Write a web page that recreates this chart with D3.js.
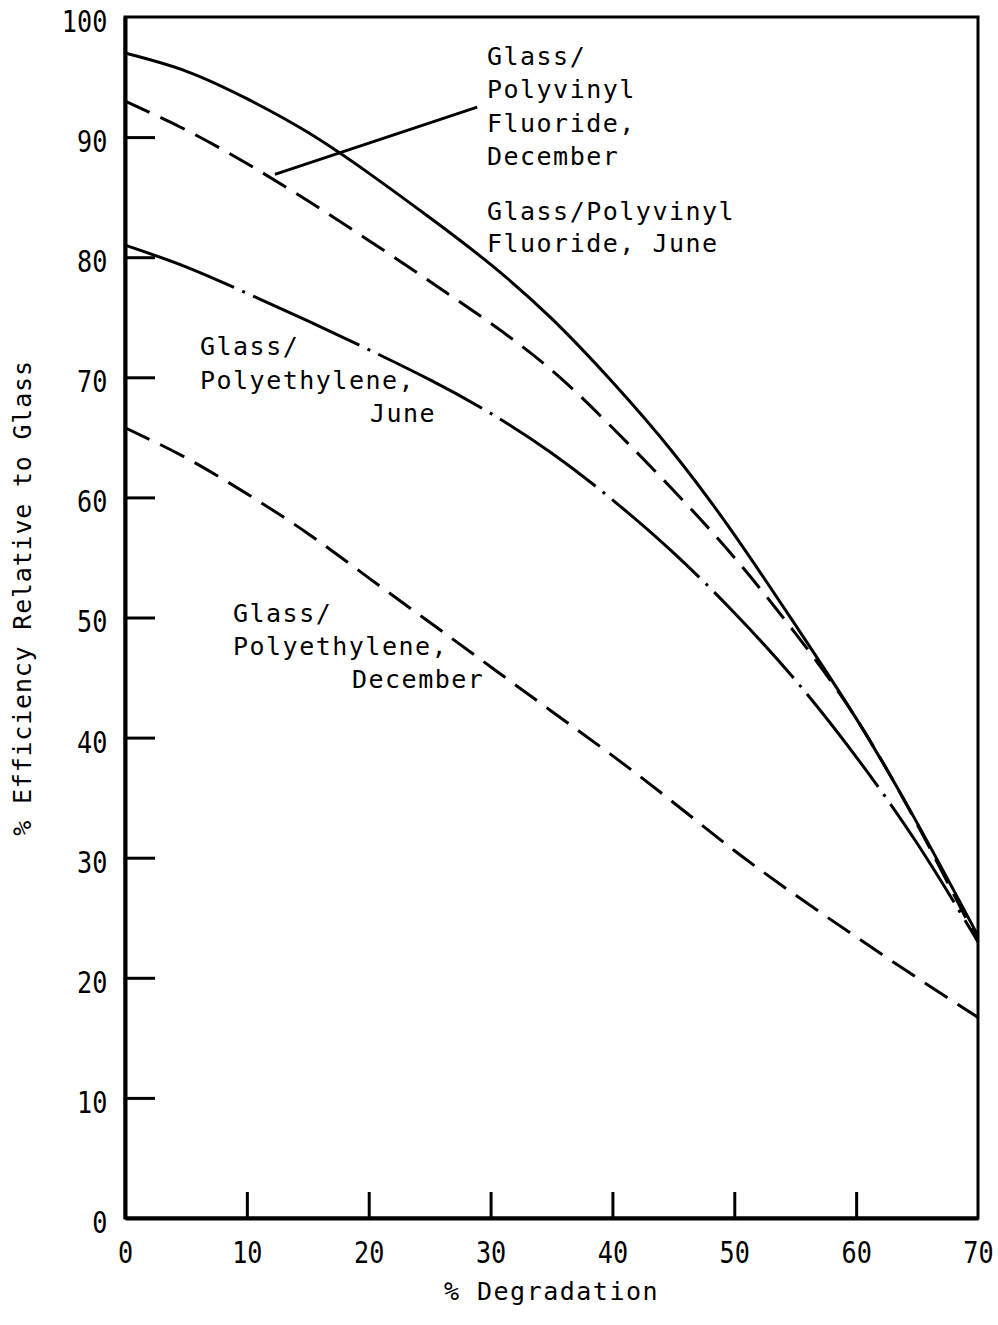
<!DOCTYPE html>
<html lang="en">
<head>
<meta charset="UTF-8">
<title>% Efficiency Relative to Glass</title>
<script src="https://d3js.org/d3.v7.min.js"></script>
<style>
  body { margin: 0; background: white; }
  svg { display: block; }
  text { font-family: "DejaVu Sans Mono", monospace; fill: black; }
</style>
</head>
<body>
<svg id="chart"></svg>
<script>
const width = 998, height = 1325;

// % degradation (x) and efficiency curves
const degradation = [0, 5, 10, 15, 20, 25, 30, 35, 40, 45, 50, 55, 60, 65, 70];
const pvfJune     = [97, 95.5, 93.2, 90.4, 87.0, 83.3, 79.4, 74.9, 69.6, 63.7, 56.9, 49.4, 41.6, 32.9, 23.5];
const pvfDecember = [93, 90.6, 87.8, 84.7, 81.4, 78.0, 74.5, 70.6, 65.8, 60.6, 55.0, 48.7, 41.6, 32.8, 23.0];
const peJune      = [81, 79.2, 77.0, 74.7, 72.3, 69.8, 67.0, 63.7, 59.8, 55.4, 50.4, 44.8, 38.4, 31.2, 23.0];
const peDecember  = [65.8, 63.3, 60.3, 57.0, 53.3, 49.6, 45.9, 42.2, 38.5, 34.6, 30.6, 26.9, 23.4, 20.0, 16.7];

const xTicks = [0, 10, 20, 30, 40, 50, 60, 70];
const yTicks = [0, 10, 20, 30, 40, 50, 60, 70, 80, 90, 100];

const svg = d3.select("#chart")
    .attr("width", width)
    .attr("height", height);

svg.append("rect").attr("width", width).attr("height", height).attr("fill", "white");

const x = d3.scaleLinear().domain([0, 70]).range([125, 978]);
const y = d3.scaleLinear().domain([0, 100]).range([1218, 17]);

// frame
svg.append("rect")
    .attr("x", x(0)).attr("y", y(100))
    .attr("width", x(70) - x(0)).attr("height", y(0) - y(100))
    .attr("fill", "none").attr("stroke", "black").attr("stroke-width", 3);

// axes (ticks point inward)
const xAxis = svg.append("g")
    .attr("transform", `translate(0,${y(0)})`)
    .call(d3.axisBottom(x).tickValues(xTicks).tickSizeInner(-26).tickSizeOuter(0).tickPadding(24));

const yAxis = svg.append("g")
    .attr("transform", `translate(${x(0)},0)`)
    .call(d3.axisLeft(y).tickValues(yTicks).tickSizeInner(-30).tickSizeOuter(0).tickPadding(21));

[xAxis, yAxis].forEach(g => {
    g.select(".domain").attr("stroke", "black").attr("stroke-width", 4);
    g.selectAll(".tick line").attr("stroke", "black").attr("stroke-width", 3);
    g.selectAll(".tick text")
        .attr("font-family", "DejaVu Sans Mono, monospace")
        .attr("font-size", 30)
        .attr("fill", "black")
        .attr("transform", "scale(0.84,1)");
});
xAxis.selectAll(".tick").filter(d => d === 0 || d === 70).select("line").remove();
yAxis.selectAll(".tick").filter(d => d === 0 || d === 100).select("line").remove();
yAxis.selectAll(".tick text").attr("dy", "0.48em");

// curves
const series = [
    { values: pvfJune, dash: null },
    { values: pvfDecember, dash: "27,12" },
    { values: peJune, dash: "117,9,3,9" },
    { values: peDecember, dash: "27,12" }
];

const line = d3.line()
    .x(d => x(d[0]))
    .y(d => y(d[1]))
    .curve(d3.curveNatural);

svg.append("g").selectAll("path")
    .data(series)
    .join("path")
    .attr("d", s => line(degradation.map((dx, i) => [dx, s.values[i]])))
    .attr("fill", "none")
    .attr("stroke", "black")
    .attr("stroke-width", 3)
    .attr("stroke-dasharray", s => s.dash);

// leader line from the December label to its curve
svg.append("line")
    .attr("x1", x(12.3)).attr("y1", y(86.9))
    .attr("x2", x(28.9)).attr("y2", y(92.5))
    .attr("stroke", "black").attr("stroke-width", 3);

// curve labels
const labels = [
    { x: 29.7, y: 96.0, lh: 33.3, lines: [["Glass/", 0], ["Polyvinyl", 0], ["Fluoride,", 0], ["December", 0]] },
    { x: 29.7, y: 83.1, lh: 32, lines: [["Glass/Polyvinyl", 0], ["Fluoride, June", 0]] },
    { x: 6.15, y: 71.85, lh: 33.5, lines: [["Glass/", 0], ["Polyethylene,", 0], ["June", 170]] },
    { x: 8.86, y: 49.6, lh: 33, lines: [["Glass/", 0], ["Polyethylene,", 0], ["December", 119]] }
];

labels.forEach(l => {
    const t = svg.append("text")
        .attr("font-size", 25)
        .attr("letter-spacing", 1.5);
    l.lines.forEach((ln, i) => {
        t.append("tspan")
            .attr("x", x(l.x) + ln[1])
            .attr("y", y(l.y) + i * l.lh)
            .text(ln[0]);
    });
});

// axis titles
svg.append("text")
    .attr("x", (x(0) + x(70)) / 2)
    .attr("y", 1300)
    .attr("text-anchor", "middle")
    .attr("font-size", 25)
    .attr("letter-spacing", 1.5)
    .text("% Degradation");

svg.append("text")
    .attr("transform", "translate(31,598) rotate(-90)")
    .attr("text-anchor", "middle")
    .attr("font-size", 25)
    .attr("letter-spacing", 0.8)
    .text("% Efficiency Relative to Glass");
</script>
</body>
</html>
